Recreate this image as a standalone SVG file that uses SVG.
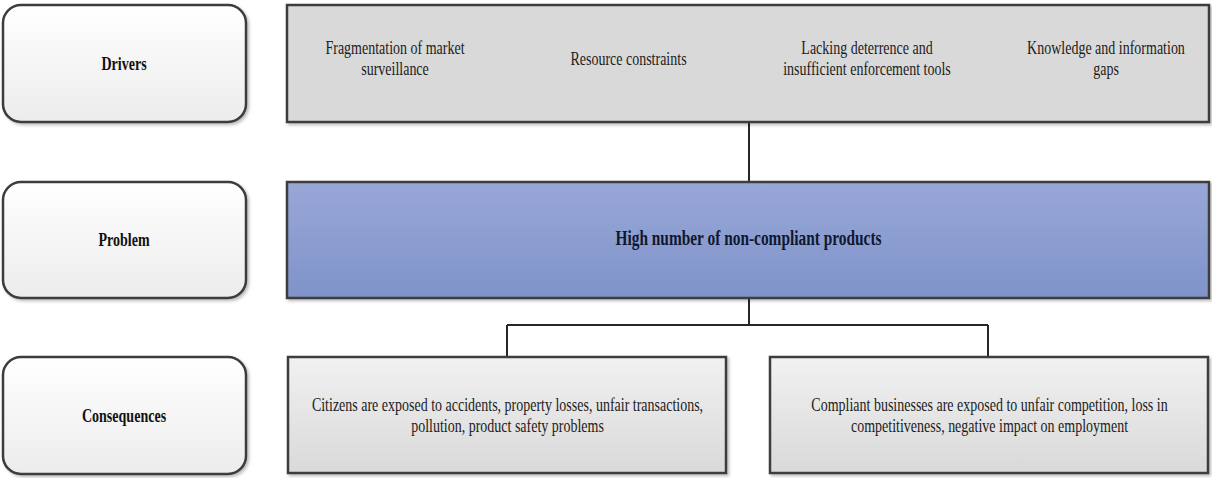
<svg xmlns="http://www.w3.org/2000/svg" width="1212" height="478" viewBox="0 0 1212 478">
  <defs>
    <linearGradient id="gLabel" x1="0" y1="0" x2="0" y2="1">
      <stop offset="0" stop-color="#ffffff"/>
      <stop offset="1" stop-color="#ececec"/>
    </linearGradient>
    <linearGradient id="gBlue" x1="0" y1="0" x2="0" y2="1">
      <stop offset="0" stop-color="#98a7d6"/>
      <stop offset="1" stop-color="#7f93ca"/>
    </linearGradient>
    <linearGradient id="gCons" x1="0" y1="0" x2="0" y2="1">
      <stop offset="0" stop-color="#f1f1f1"/>
      <stop offset="1" stop-color="#d9d9d9"/>
    </linearGradient>
    <filter id="shadow" x="-5%" y="-5%" width="110%" height="115%">
      <feDropShadow dx="2" dy="2" stdDeviation="1.5" flood-color="#000000" flood-opacity="0.25"/>
    </filter>
  </defs>
  <style>
    .box { stroke: #3c3c3c; stroke-width: 2.5; filter: url(#shadow); }
    .label { fill: url(#gLabel); }
    .drivers { fill: #d9d9d9; }
    .problem { fill: url(#gBlue); }
    .cons { fill: url(#gCons); }
    .t { font-family: "Liberation Serif", "Times New Roman", serif; font-size: 18.5px; fill: #1c1c1c; text-anchor: middle; }
    .b { font-family: "Liberation Serif", "Times New Roman", serif; font-size: 19.5px; font-weight: bold; fill: #111111; text-anchor: middle; }
    .hb { font-family: "Liberation Serif", "Times New Roman", serif; font-size: 20px; font-weight: bold; fill: #101830; text-anchor: middle; }
    .conn { fill: none; stroke: #262626; stroke-width: 2; }
  </style>
  <rect width="1212" height="478" fill="#ffffff"/>

  <g id="connectors">
    <path class="conn" d="M749 122 V182"/>
    <path class="conn" d="M749 298 V325"/>
    <path class="conn" d="M507 325 H988"/>
    <path class="conn" d="M507 325 V357"/>
    <path class="conn" d="M988 325 V357"/>
  </g>

  <g id="label-drivers">
    <rect class="box label" x="3" y="5" width="243" height="117" rx="18"/>
    <text class="b" transform="translate(124 70) scale(0.72 1)">Drivers</text>
  </g>
  <g id="label-problem">
    <rect class="box label" x="3" y="182" width="243" height="116" rx="18"/>
    <text class="b" transform="translate(124 246) scale(0.72 1)">Problem</text>
  </g>
  <g id="label-consequences">
    <rect class="box label" x="3" y="357" width="243" height="117" rx="18"/>
    <text class="b" transform="translate(124 422) scale(0.72 1)">Consequences</text>
  </g>

  <g id="drivers">
    <rect class="box drivers" x="287" y="5" width="922" height="117"/>
    <text class="t" transform="translate(395 54) scale(0.757 1)">Fragmentation of market</text>
    <text class="t" transform="translate(395 75) scale(0.757 1)">surveillance</text>
    <text class="t" transform="translate(628.5 65) scale(0.757 1)">Resource constraints</text>
    <text class="t" transform="translate(867 54) scale(0.757 1)">Lacking deterrence and</text>
    <text class="t" transform="translate(867 75) scale(0.757 1)">insufficient enforcement tools</text>
    <text class="t" transform="translate(1106 54) scale(0.757 1)">Knowledge and information</text>
    <text class="t" transform="translate(1106 75) scale(0.757 1)">gaps</text>
  </g>

  <g id="problem">
    <rect class="box problem" x="287" y="182" width="922" height="116"/>
    <text class="hb" transform="translate(748.5 245) scale(0.77 1)">High number of non-compliant products</text>
  </g>

  <g id="consequence-citizens">
    <rect class="box cons" x="288" y="357" width="438" height="116"/>
    <text class="t" transform="translate(507.5 411) scale(0.757 1)">Citizens are exposed to accidents, property losses, unfair transactions,</text>
    <text class="t" transform="translate(507.5 432) scale(0.757 1)">pollution, product safety problems</text>
  </g>

  <g id="consequence-businesses">
    <rect class="box cons" x="770" y="357" width="438" height="116"/>
    <text class="t" transform="translate(989.5 411) scale(0.757 1)">Compliant businesses are exposed to unfair competition, loss in</text>
    <text class="t" transform="translate(989.5 432) scale(0.757 1)">competitiveness, negative impact on employment</text>
  </g>
</svg>
